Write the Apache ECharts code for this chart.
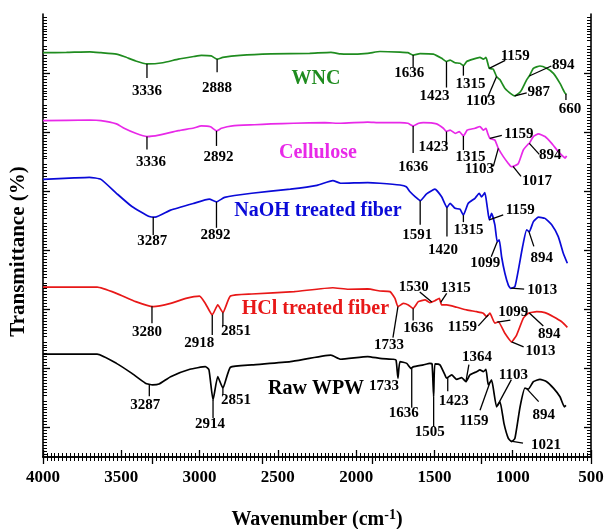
<!DOCTYPE html>
<html>
<head>
<meta charset="utf-8">
<title>FTIR spectra</title>
<script src="https://cdn.jsdelivr.net/npm/echarts@6/dist/echarts.min.js"></script>
<style>
  html, body { margin: 0; padding: 0; background: #fff; }
  #chart { width: 607px; height: 529px; }
</style>
</head>
<body>
<div id="chart"></div>
<script>
// spectra: [wavenumber, transmittance (offset, a.u.)]
const wnc = [
  [4000,136.9],[3850,137.0],[3700,137.2],[3630,136.9],[3531,136.4],[3482,135.6],[3408,134.1],[3336,133.1],
  [3235,133.5],[3136,134.7],[3037,135.6],[2988,136.0],[2926,135.8],[2888,134.7],[2852,135.3],[2741,136.0],
  [2544,136.5],[2297,136.7],[2161,137.0],[2100,136.5],[2050,136.4],[1926,136.7],[1848,137.3],[1720,137.1],
  [1670,136.9],[1636,136.1],[1592,136.6],[1507,136.4],[1454,135.0],[1423,133.9],[1400,134.4],[1368,133.5],
  [1337,133.3],[1315,132.5],[1294,133.9],[1252,134.7],[1209,135.3],[1188,134.7],[1171,135.3],[1150,131.6],
  [1124,131.3],[1103,128.8],[1081,127.7],[1049,124.8],[1006,122.8],[987,122.3],[960,123.2],[943,124.3],
  [911,127.7],[894,129.0],[868,131.6],[826,132.4],[783,131.6],[740,129.9],[698,126.5],[666,123.2],[657,122.8]
]
const cellulose = [
  [4000,113.9],[3700,114.1],[3630,113.9],[3531,112.8],[3482,111.3],[3408,109.6],[3336,108.5],[3260,109.0],
  [3136,110.5],[3037,111.4],[2988,112.1],[2930,111.8],[2892,110.4],[2860,111.3],[2790,112.1],[2650,112.5],
  [2544,112.8],[2400,113.0],[2200,113.2],[2100,113.0],[1926,113.4],[1848,113.2],[1720,113.2],[1670,113.0],
  [1636,112.1],[1600,113.0],[1571,113.2],[1486,112.8],[1443,111.3],[1423,110.2],[1400,110.7],[1368,109.6],
  [1341,110.2],[1315,108.7],[1290,110.7],[1241,111.3],[1209,111.9],[1188,110.7],[1171,111.3],[1159,109.5],
  [1146,107.9],[1114,107.3],[1092,104.5],[1060,101.7],[1028,99.4],[1010,98.3],[996,98.4],[964,99.4],
  [932,104.0],[900,106.0],[894,106.2],[868,108.5],[836,109.4],[794,108.5],[751,106.2],[709,103.4],
  [677,101.7],[665,101.2],[656,102.0]
]
const naoh = [
  [4000,94.0],[3800,94.5],[3704,94.7],[3630,94.0],[3531,89.3],[3432,84.8],[3321,81.4],[3284,81.2],
  [3185,83.6],[3037,85.9],[2938,87.3],[2892,86.4],[2840,87.9],[2667,89.3],[2420,90.7],[2250,92.0],
  [2149,93.6],[2099,92.7],[1926,92.9],[1848,92.7],[1720,92.1],[1680,91.5],[1656,89.8],[1620,88.0],
  [1591,86.8],[1550,89.1],[1497,90.7],[1454,88.1],[1420,84.5],[1400,85.9],[1368,84.2],[1337,83.9],
  [1315,81.9],[1284,85.9],[1241,87.6],[1214,89.3],[1199,88.1],[1178,89.5],[1163,84.8],[1150,80.3],
  [1135,82.5],[1114,78.6],[1099,72.9],[1086,73.5],[1071,67.8],[1050,62.2],[1028,58.2],[1013,57.1],
  [986,57.7],[964,63.3],[937,71.2],[911,76.9],[894,76.3],[868,79.7],[836,81.2],[794,80.8],
  [751,78.6],[709,74.6],[677,69.0],[651,65.6]
]
const hcl = [
  [4000,57.5],[3654,57.5],[3531,55.4],[3408,52.6],[3296,50.9],[3185,52.0],[3087,53.7],[3000,54.5],
  [2963,52.0],[2919,48.1],[2884,51.5],[2851,48.9],[2803,54.5],[2667,55.2],[2395,56.0],[2149,57.3],
  [2050,56.8],[1926,56.9],[1848,56.2],[1784,56.0],[1752,53.7],[1733,50.9],[1699,52.0],[1667,51.5],
  [1636,50.3],[1603,52.6],[1560,53.2],[1529,52.3],[1497,52.9],[1469,53.7],[1454,51.5],[1422,51.5],
  [1358,50.7],[1294,49.8],[1230,49.2],[1188,48.7],[1167,47.5],[1146,48.7],[1114,45.3],[1092,45.8],
  [1050,41.9],[1007,39.0],[975,41.3],[932,47.0],[900,48.7],[847,49.2],[794,48.9],[740,47.5],
  [687,45.8],[651,43.9]
]
const raw = [
  [4000,34.8],[3654,34.8],[3531,31.7],[3432,28.3],[3346,25.0],[3300,24.4],[3259,24.7],[3185,27.2],
  [3062,29.7],[2963,30.6],[2940,29.5],[2914,19.3],[2884,27.2],[2851,23.3],[2803,30.4],[2667,31.2],
  [2420,32.3],[2161,34.5],[2099,33.1],[1926,34.0],[1848,33.4],[1763,33.1],[1745,32.8],[1733,26.7],
  [1720,32.3],[1677,31.7],[1650,30.0],[1636,30.5],[1571,31.2],[1529,31.7],[1515,31.5],[1505,20.4],
  [1497,31.5],[1465,31.2],[1433,27.8],[1423,26.7],[1390,27.8],[1358,26.3],[1326,26.9],[1299,25.5],
  [1273,27.8],[1230,28.9],[1209,29.5],[1188,28.9],[1171,29.7],[1156,24.4],[1135,26.1],[1103,17.0],
  [1081,18.7],[1056,11.4],[1028,6.3],[1007,5.2],[986,6.3],[953,17.0],[922,23.3],[900,23.0],
  [868,25.5],[826,26.3],[783,25.5],[740,23.3],[698,20.4],[670,17.0],[660,17.5]
]

// peak labels: [text, wavenumber where the leader touches the curve]
const wncPeaks = [['3336',3336],['2888',2888],['1636',1636],['1423',1423],['1315',1315],['1103',1103],['1159',1150],['987',987],['894',894],['660',660]]
const celPeaks = [['3336',3336],['2892',2892],['1636',1636],['1423',1423],['1315',1315],['1103',1092],['1159',1146],['894',894],['1017',998]]
const naohPeaks = [['3287',3296],['2892',2892],['1591',1591],['1420',1420],['1315',1315],['1159',1150],['1099',1099],['894',897],['1013',1010]]
const hclPeaks = [['3280',3304],['2918',2919],['2851',2851],['1733',1733],['1636',1636],['1530',1517],['1315',1460],['1159',1156],['1099',1098],['894',894],['1013',1007]]
const rawPeaks = [['3287',3321],['2914',2914],['2851',2851],['1733',1733],['1636',1645],['1505',1505],['1423',1415],['1364',1299],['1159',1145],['1103',1098],['894',911],['1021',1011]]

const seriesNames = ['WNC', 'Cellulose', 'NaOH treated fiber', 'HCl treated fiber', 'Raw WPW']

// layout of the leaders (px from the curve point): [leaderDx, leaderDy, textDx, textDy]
const wncLayout = [[0,14,0,27],[0,13,0,29],[0,12,-4,18],[0,26,-12,35],[0,10,7,18],[-9,21,-16,25],[16,-8,26,-12],[12,-3,24,-4],[22,-10,34,-11],[0,6,4,15]]
const celLayout = [[0,13,4,26],[0,15,2,26],[0,27,0,41],[0,13,-13,16],[0,14,7,21],[-5,18,-19,21],[12,-3,29,-4],[10,11,21,12],[8,10,24,15]]
const naohLayout = [[0,18,-1,24],[0,26,-1,33],[0,24,-3,34],[0,29,-4,43],[0,7,5,15],[14,-5,31,-10],[-6,15,-12,21],[5,15,13,27],[13,1,31,2]]
const hclLayout = [[0,17,-5,26],[0,20,-13,28],[0,14,13,19],[-5,31,-9,38],[0,12,5,20],[-12,-10,-18,-15],[6,-9,15,-14],[-10,11,-26,12],[13,-2,16,-10],[14,13,20,21],[12,5,29,9]]
const rawLayout = [[0,12,-4,21],[0,18,-3,24],[0,7,13,12],[0,0,-14,8],[0,40,-8,45],[0,30,-4,35],[0,14,6,24],[3,-17,11,-25],[-10,28,-16,39],[14,-26,16,-31],[12,13,17,26],[12,2,35,4]]
// where each spectrum's name sits, in data units
const nameAt = [[2256,128.0],[2244,102.9],[2244,83.4],[2260,50.1],[2256,23.0]]

const colors = ['#1f8c1f', '#e829e8', '#0a0ad8', '#e81818', '#000000']
const serif = '"Liberation Serif", "Times New Roman", serif'

function interp(curve, w) {
  for (let i = 0; i < curve.length - 1; i++) {
    const a = curve[i], b = curve[i + 1]
    if (w <= a[0] && w >= b[0]) {
      const t = (a[0] - w) / (a[0] - b[0])
      return a[1] + (b[1] - a[1]) * t
    }
  }
  return curve[curve.length - 1][1]
}

function peakSeries(curve, peaks, layout) {
  return {
    type: 'custom',
    silent: true,
    clip: false,
    z: 5,
    data: peaks.map((p, i) => [p[1], interp(curve, p[1]), i]),
    encode: { x: 0, y: 1 },
    renderItem: (params, api) => {
      const i = api.value(2)
      const c = api.coord([api.value(0), api.value(1)])
      const [dx, dy, tx, ty] = layout[i]
      return {
        type: 'group',
        children: [
          {
            type: 'line',
            shape: { x1: c[0], y1: c[1], x2: c[0] + dx, y2: c[1] + dy },
            style: { stroke: '#000', lineWidth: 1.3 },
          },
          {
            type: 'text',
            x: c[0] + tx,
            y: c[1] + ty,
            style: {
              text: peaks[i][0],
              fill: '#000',
              font: 'bold 15px ' + serif,
              align: 'center',
              verticalAlign: 'middle',
            },
          },
        ],
      }
    },
  }
}

const curves = [wnc, cellulose, naoh, hcl, raw]
const peaks = [wncPeaks, celPeaks, naohPeaks, hclPeaks, rawPeaks]
const layouts = [wncLayout, celLayout, naohLayout, hclLayout, rawLayout]

const chart = echarts.init(document.getElementById('chart'))

const series = []
curves.forEach((c, k) => {
  series.push({
    name: seriesNames[k],
    type: 'line',
    data: c,
    showSymbol: false,
    smooth: 0.15,
    lineStyle: { color: colors[k], width: 1.7 },
    itemStyle: { color: colors[k] },
    silent: true,
    z: 3,
  })
})
curves.forEach((c, k) => series.push(peakSeries(c, peaks[k], layouts[k])))
series.push({
  type: 'custom',
  silent: true,
  z: 6,
  data: nameAt.map((p, k) => [p[0], p[1], k]),
  encode: { x: 0, y: 1 },
  renderItem: (params, api) => {
    const k = api.value(2)
    const c = api.coord([api.value(0), api.value(1)])
    return {
      type: 'text',
      x: c[0],
      y: c[1],
      style: {
        text: seriesNames[k],
        fill: colors[k],
        font: 'bold 20px ' + serif,
        align: 'center',
        verticalAlign: 'middle',
      },
    }
  },
})

const frameLine = { show: true, lineStyle: { color: '#000', width: 1.6 } }

chart.setOption({
  backgroundColor: '#fff',
  animation: false,
  grid: { left: 43, right: 16, top: 14, bottom: 72, containLabel: false, outerBoundsMode: 'none' },
  xAxis: [
    {
      type: 'value',
      position: 'bottom',
      min: 500,
      max: 4000,
      interval: 500,
      inverse: true,
      name: 'Wavenumber (cm{sup|-1})',
      nameLocation: 'middle',
      nameGap: 51,
      nameTextStyle: {
        color: '#000',
        fontFamily: serif,
        fontWeight: 'bold',
        fontSize: 20,
        rich: {
          sup: { fontSize: 14, fontWeight: 'bold', fontFamily: serif, color: '#000', padding: [0, 0, 10, 0] },
        },
      },
      axisLine: frameLine,
      axisTick: { inside: true, length: 7, lineStyle: { color: '#000', width: 1.3 } },
      minorTick: { show: true, splitNumber: 20, length: 4, lineStyle: { color: '#000', width: 1 } },
      axisLabel: {
        color: '#000',
        fontFamily: serif,
        fontWeight: 'bold',
        fontSize: 17,
        margin: 12,
        formatter: (v) => String(v),
      },
      splitLine: { show: false },
    },
    {
      type: 'value',
      position: 'top',
      min: 0,
      max: 3500,
      interval: 700,
      axisLine: frameLine,
      axisTick: { inside: true, length: 7, lineStyle: { color: '#000', width: 1.3 } },
      minorTick: { show: true, splitNumber: 28, length: 4, lineStyle: { color: '#000', width: 1 } },
      axisLabel: { show: false },
      splitLine: { show: false },
    },
  ],
  yAxis: [
    {
      type: 'value',
      position: 'left',
      min: 0,
      max: 150,
      interval: 10,
      name: 'Transmittance (%)',
      nameLocation: 'middle',
      nameGap: 14,
      nameTextStyle: {
        color: '#000',
        fontFamily: serif,
        fontWeight: 'bold',
        fontSize: 21,
        padding: [0, 32, 0, 0],
      },
      axisLine: frameLine,
      axisTick: {
        inside: true,
        length: 7,
        customValues: [10, 30, 50, 70, 90, 110, 130],
        lineStyle: { color: '#000', width: 1.3 },
      },
      minorTick: { show: true, splitNumber: 10, length: 4, lineStyle: { color: '#000', width: 1 } },
      axisLabel: { show: false },
      splitLine: { show: false },
    },
    {
      type: 'value',
      position: 'right',
      min: 0,
      max: 150,
      interval: 10,
      axisLine: frameLine,
      axisTick: {
        inside: true,
        length: 7,
        customValues: [10, 30, 50, 70, 90, 110, 130],
        lineStyle: { color: '#000', width: 1.3 },
      },
      minorTick: { show: true, splitNumber: 10, length: 4, lineStyle: { color: '#000', width: 1 } },
      axisLabel: { show: false },
      splitLine: { show: false },
    },
  ],
  series: series,
})
</script>
</body>
</html>
